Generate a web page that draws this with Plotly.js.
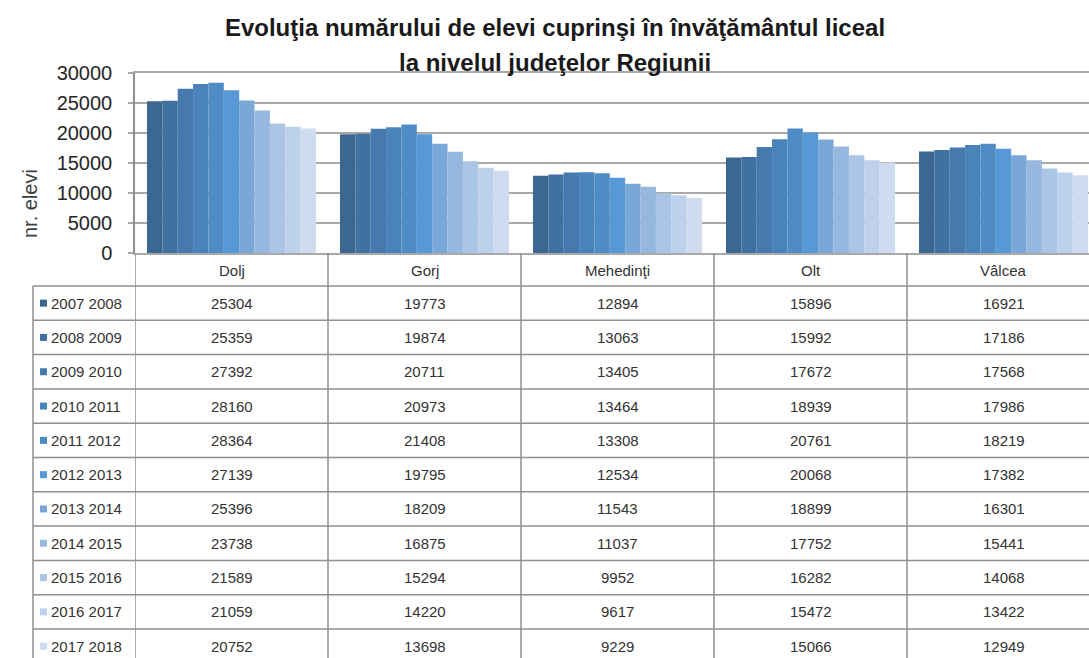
<!DOCTYPE html>
<html><head><meta charset="utf-8">
<script src="https://cdn.plot.ly/plotly-3.0.1.min.js"></script>
<style>html,body{margin:0;padding:0;background:#fff}#chart{width:1089px;height:658px}</style>
</head><body><div id="chart"></div>
<script>
// ---------- data ----------
const counties = ["Dolj", "Gorj", "Mehedinţi", "Olt", "Vâlcea"];
const seasons = ["2007 2008", "2008 2009", "2009 2010", "2010 2011", "2011 2012", "2012 2013",
                 "2013 2014", "2014 2015", "2015 2016", "2016 2017", "2017 2018"];
const v2007_2008 = [25304, 19773, 12894, 15896, 16921];
const v2008_2009 = [25359, 19874, 13063, 15992, 17186];
const v2009_2010 = [27392, 20711, 13405, 17672, 17568];
const v2010_2011 = [28160, 20973, 13464, 18939, 17986];
const v2011_2012 = [28364, 21408, 13308, 20761, 18219];
const v2012_2013 = [27139, 19795, 12534, 20068, 17382];
const v2013_2014 = [25396, 18209, 11543, 18899, 16301];
const v2014_2015 = [23738, 16875, 11037, 17752, 15441];
const v2015_2016 = [21589, 15294, 9952, 16282, 14068];
const v2016_2017 = [21059, 14220, 9617, 15472, 13422];
const v2017_2018 = [20752, 13698, 9229, 15066, 12949];
const yTickVals = [0, 5000, 10000, 15000, 20000, 25000, 30000];
const yTickText = ["0", "5000", "10000", "15000", "20000", "25000", "30000"];

const seriesValues = [v2007_2008, v2008_2009, v2009_2010, v2010_2011, v2011_2012, v2012_2013,
                      v2013_2014, v2014_2015, v2015_2016, v2016_2017, v2017_2018];
const colors = ["#3c6790", "#4171a0", "#4679ad", "#4a83b9", "#4f8cc6", "#5799d6",
                "#79a7d8", "#97b8de", "#aac5e6", "#bdd0ec", "#cfdbef"];

// ---------- geometry helpers ----------
const W = 1089, H = 658, L = 135;
const plotTop = 73, plotBottom = 253;
const catPx = 193;
const px2x = px => (px - L) / (W - L);
const py2y = py => (H - py) / H;
const headerCenter = 270;
const firstRowLine = 286, rowH = 34.3;
const rowCenter = i => firstRowLine + rowH / 2 + rowH * i;
const gridColor = "#a9a9a9", tableColor = "#8f8f8f";
const txtFont = {family: "Liberation Sans, Arial, sans-serif", size: 15, color: "#333333"};
const titleFont = {family: "Liberation Sans Narrow, Arial Narrow, sans-serif", size: 24, color: "#1a1a1a"};

const traces = seasons.map((s, i) => ({
  type: "bar", name: s, x: counties, y: seriesValues[i],
  marker: {color: colors[i], line: {width: 0}},
  hovertemplate: "%{x}<br>" + s + ": %{y}<extra></extra>"
}));

const shapes = [];
const annotations = [];

// title second line
annotations.push({xref: "paper", yref: "paper", x: px2x(555), y: py2y(62),
  xanchor: "center", yanchor: "middle", showarrow: false,
  text: "<b>la nivelul judeţelor Regiunii</b>", font: titleFont});

// y axis title
annotations.push({xref: "paper", yref: "paper", x: px2x(30), y: py2y(204),
  xanchor: "center", yanchor: "middle", showarrow: false, textangle: -90,
  text: "nr. elevi",
  font: {family: "Liberation Sans, Arial, sans-serif", size: 20, color: "#404040"}});

// horizontal table lines
for (let i = 0; i <= 11; i++) {
  const py = firstRowLine + rowH * i;
  shapes.push({type: "line", xref: "paper", yref: "paper", x0: px2x(33), x1: 1.01,
    y0: py2y(py), y1: py2y(py), line: {color: tableColor, width: 1.5}});
}
// vertical lines between categories (and left axis extension)
for (let i = 0; i < counties.length; i++) {
  shapes.push({type: "line", xref: "x", yref: "paper", x0: i - 0.5, x1: i - 0.5,
    y0: py2y(plotBottom), y1: py2y(H + 5), line: {color: tableColor, width: 1.5}});
}
// legend column left border
shapes.push({type: "line", xref: "paper", yref: "paper", x0: px2x(33), x1: px2x(33),
  y0: py2y(firstRowLine), y1: py2y(H + 5), line: {color: tableColor, width: 1.5}});

// header labels
counties.forEach((c, j) => {
  annotations.push({xref: "x", yref: "paper", x: j, y: py2y(headerCenter),
    xanchor: "center", yanchor: "middle", showarrow: false, text: c, font: txtFont});
});

// rows: legend key + values
seasons.forEach((s, i) => {
  const cy = rowCenter(i);
  shapes.push({type: "rect", xref: "paper", yref: "paper",
    x0: px2x(40), x1: px2x(47), y0: py2y(cy + 3.5), y1: py2y(cy - 3.5),
    fillcolor: colors[i], line: {width: 0}});
  annotations.push({xref: "paper", yref: "paper", x: px2x(49), y: py2y(cy),
    xanchor: "left", yanchor: "middle", showarrow: false, text: s, font: txtFont});
  seriesValues[i].forEach((v, j) => {
    annotations.push({xref: "x", yref: "paper", x: j, y: py2y(cy),
      xanchor: "center", yanchor: "middle", showarrow: false, text: String(v), font: txtFont});
  });
});

const layout = {
  width: W, height: H,
  margin: {l: L, r: 0, t: 0, b: 0, pad: 0},
  paper_bgcolor: "#ffffff", plot_bgcolor: "#ffffff",
  showlegend: false,
  barmode: "group", bargap: 0.124, bargroupgap: 0,
  title: {text: "<b>Evoluţia numărului de elevi cuprinşi în învăţământul liceal</b>",
    xref: "container", yref: "container", x: 555 / W, y: 1 - 28 / H,
    xanchor: "center", yanchor: "middle", font: titleFont},
  xaxis: {
    domain: [0, 1], range: [-0.5, -0.5 + (W - L) / catPx],
    showticklabels: false, ticks: "", showgrid: false, zeroline: false,
    showline: true, mirror: true, linecolor: gridColor, linewidth: 2, fixedrange: true
  },
  yaxis: {
    domain: [py2y(plotBottom), py2y(plotTop)], range: [0, 30000],
    tickvals: yTickVals, ticktext: yTickText,
    ticks: "outside", ticklen: 5, tickcolor: gridColor, tickwidth: 1.5,
    ticklabelstandoff: 12,
    tickfont: {family: "Liberation Sans, Arial, sans-serif", size: 20, color: "#262626"},
    showgrid: true, gridcolor: gridColor, gridwidth: 1.5, zeroline: false,
    showline: true, linecolor: tableColor, linewidth: 1.5,
    fixedrange: true
  },
  shapes: shapes,
  annotations: annotations
};

Plotly.newPlot("chart", traces, layout, {displayModeBar: false, responsive: false});
</script>
</body></html>
